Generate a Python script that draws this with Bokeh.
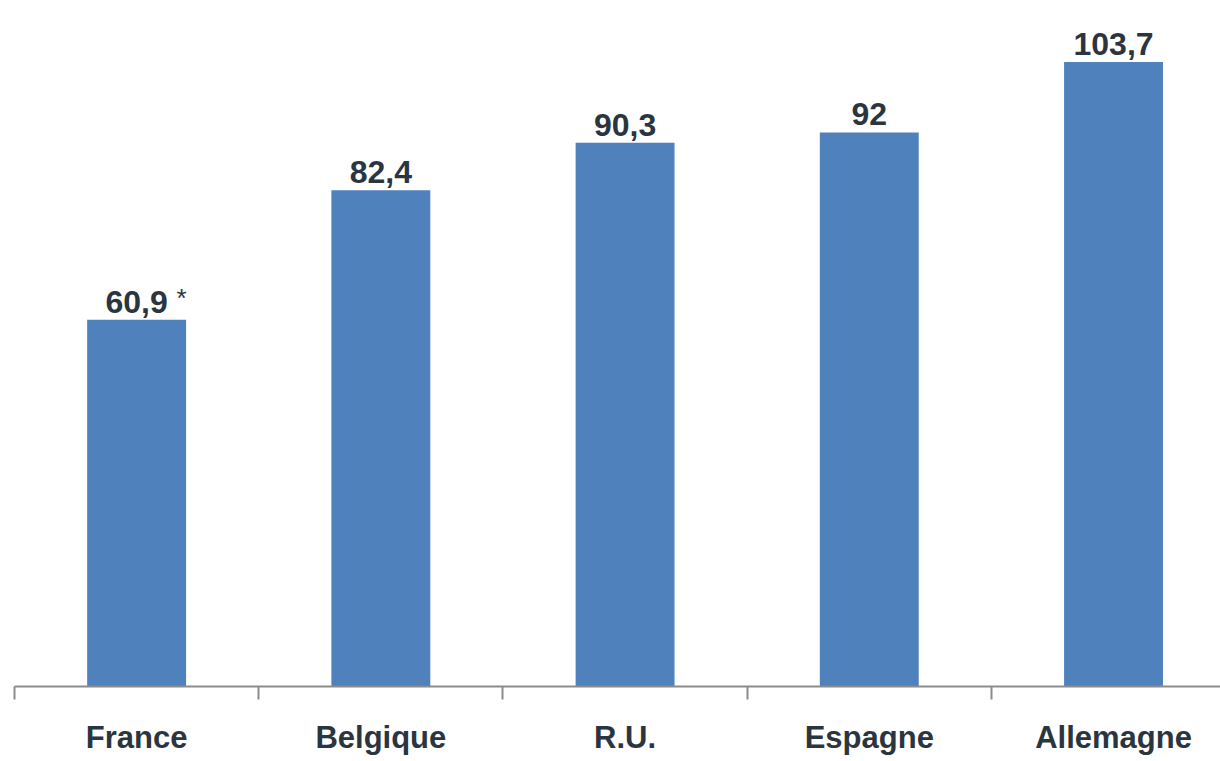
from bokeh.plotting import figure
from bokeh.models import Range1d, FixedTicker, ColumnDataSource
from bokeh.core.properties import value
from bokeh.embed import file_html
from bokeh.resources import INLINE

# Data
countries = ["France", "Belgique", "R.U.", "Espagne", "Allemagne"]
values = [60.9, 82.4, 90.3, 92, 103.7]
value_labels = ["60,9", "82,4", "90,3", "92", "103,7"]
footnote_marks = ["*", "", "", "", ""]

BAR_COLOR = "#4f81bd"
TEXT_COLOR = "#2b3540"
AXIS_COLOR = "#8c8c8c"
FONT = "Liberation Sans"

centers = [i + 0.5 for i in range(len(countries))]

src = ColumnDataSource(dict(
    x=centers,
    top=values,
    label=value_labels,
    mark=footnote_marks,
))

p = figure(
    width=1220, height=761,
    x_range=Range1d(0, 4.938),
    y_range=Range1d(0, 113.9),
    output_backend="svg",
    toolbar_location=None,
    min_border_left=14, min_border_right=0,
    min_border_top=0, min_border_bottom=75,
)
p.outline_line_color = None
p.xgrid.visible = False
p.ygrid.visible = False
p.yaxis.visible = False

p.vbar(x="x", top="top", bottom=0, width=0.405, source=src,
       fill_color=BAR_COLOR, line_color=None)

# value labels above bars
p.text(x="x", y="top", text="label", source=src,
       text_align="center", text_baseline="alphabetic", y_offset=-18,
       text_font=value(FONT), text_font_style="bold",
       text_font_size="32px", text_color=TEXT_COLOR)

# footnote asterisk next to the France value
p.text(x="x", y="top", text="mark", source=src,
       text_align="left", text_baseline="alphabetic", x_offset=40, y_offset=-22,
       text_font=value(FONT), text_font_size="26px",
       text_color=TEXT_COLOR)

# category axis: labels at bar centres, separators at category boundaries
ax = p.xaxis[0]
ax.ticker = FixedTicker(ticks=centers,
                        minor_ticks=[float(i) for i in range(len(countries) + 1)])
ax.major_label_overrides = {c: name for c, name in zip(centers, countries)}
ax.major_tick_line_color = None
ax.major_tick_in = 0
ax.major_tick_out = 0
ax.minor_tick_in = 0
ax.minor_tick_out = 13
ax.minor_tick_line_color = AXIS_COLOR
ax.minor_tick_line_width = 2
ax.axis_line_color = AXIS_COLOR
ax.axis_line_width = 2
ax.major_label_standoff = 20
ax.major_label_text_font = FONT
ax.major_label_text_font_style = "bold"
ax.major_label_text_font_size = "31px"
ax.major_label_text_color = TEXT_COLOR

open("out.html", "w").write(file_html(p, INLINE))
